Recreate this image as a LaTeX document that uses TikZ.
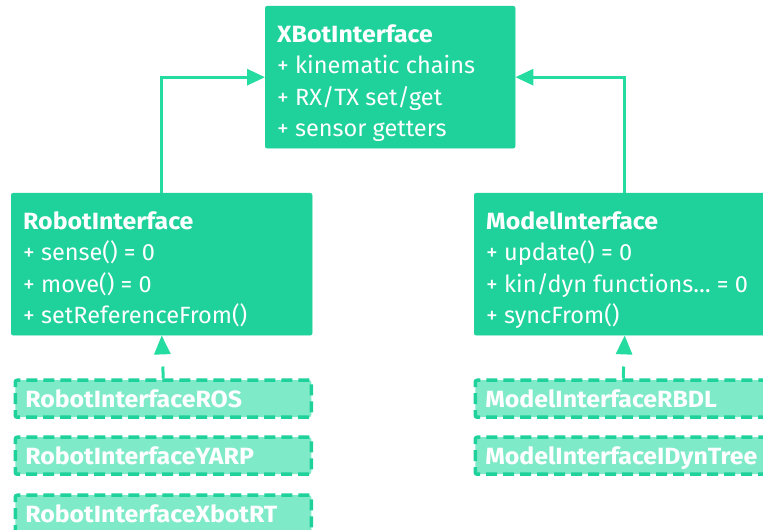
\documentclass[tikz,border=0pt]{standalone}
\usepackage{fontspec}
\setmainfont{Fira Sans}[BoldFeatures={FakeStretch=1.06}]
\usetikzlibrary{arrows.meta,positioning}
\definecolor{ClassGreen}{RGB}{31,209,154}
\definecolor{ImplGreen}{RGB}{127,234,199}
\definecolor{LinkGreen}{RGB}{36,220,160}
\tikzset{
    classbox/.style={draw=ClassGreen, fill=ClassGreen, rounded corners=2pt, anchor=north west, inner sep=0pt, minimum width=301pt, minimum height=142pt},
    classtxt/.style={anchor=north west, align=left, inner sep=0pt, text=white, font=\fontsize{23.5}{31.6}\selectfont},
    implbox/.style={draw=ClassGreen, fill=ImplGreen, line width=3.5pt, dash pattern=on 11pt off 6pt, rounded corners=2pt, anchor=north west, text width=276pt, align=left, inner xsep=10pt, inner ysep=0pt, minimum height=37pt, text height=17pt, text depth=0pt, text=white, font=\bfseries\fontsize{23.5}{26}\selectfont},
    inherit/.style={draw=LinkGreen, line width=3pt, -{Triangle[length=18pt,width=16pt]}},
    realize/.style={draw=LinkGreen, line width=3pt, dash pattern=on 12pt off 20pt, -{Triangle[length=19pt,width=16pt]}},
}
\begin{document}
\begin{tikzpicture}[x=1pt,y=1pt]
\useasboundingbox (0,0) rectangle (763,530);
% base class and the two interfaces
\node[classbox, minimum width=250pt] (xbot) at (265,524) {};
\node[classtxt] at ([shift={(12,-18)}]xbot.north west) {\textbf{XBotInterface}\\+ kinematic chains\\+ RX/TX set/get\\+ sensor getters};
\node[classbox] (robot) at (11,337) {};
\node[classtxt] at ([shift={(12,-18)}]robot.north west) {\textbf{RobotInterface}\\+ sense() = 0\\+ move() = 0\\+ setReferenceFrom()};
\node[classbox] (model) at (474,337) {};
\node[classtxt] at ([shift={(12,-18)}]model.north west) {\textbf{ModelInterface}\\+ update() = 0\\+ kin/dyn functions… = 0\\+ syncFrom()};

% implementations
\node[implbox] (ros) at (13.5,151.5) {RobotInterfaceROS};
\node[implbox] (yarp) at (13.5,94.5) {RobotInterfaceYARP};
\node[implbox] (xbotrt) at (13.5,36.5) {RobotInterfaceXbotRT};
\node[implbox] (rbdl) at (473.5,151.5) {ModelInterfaceRBDL};
\node[implbox] (idyntree) at (473.5,94.5) {ModelInterfaceIDynTree};

\draw[inherit] (robot.north) |- (xbot.west);
\draw[inherit] (model.north) |- (xbot.east);
\draw[realize] (ros.north) -- (robot.south);
\draw[realize] (rbdl.north) -- (model.south);
\end{tikzpicture}
\end{document}
